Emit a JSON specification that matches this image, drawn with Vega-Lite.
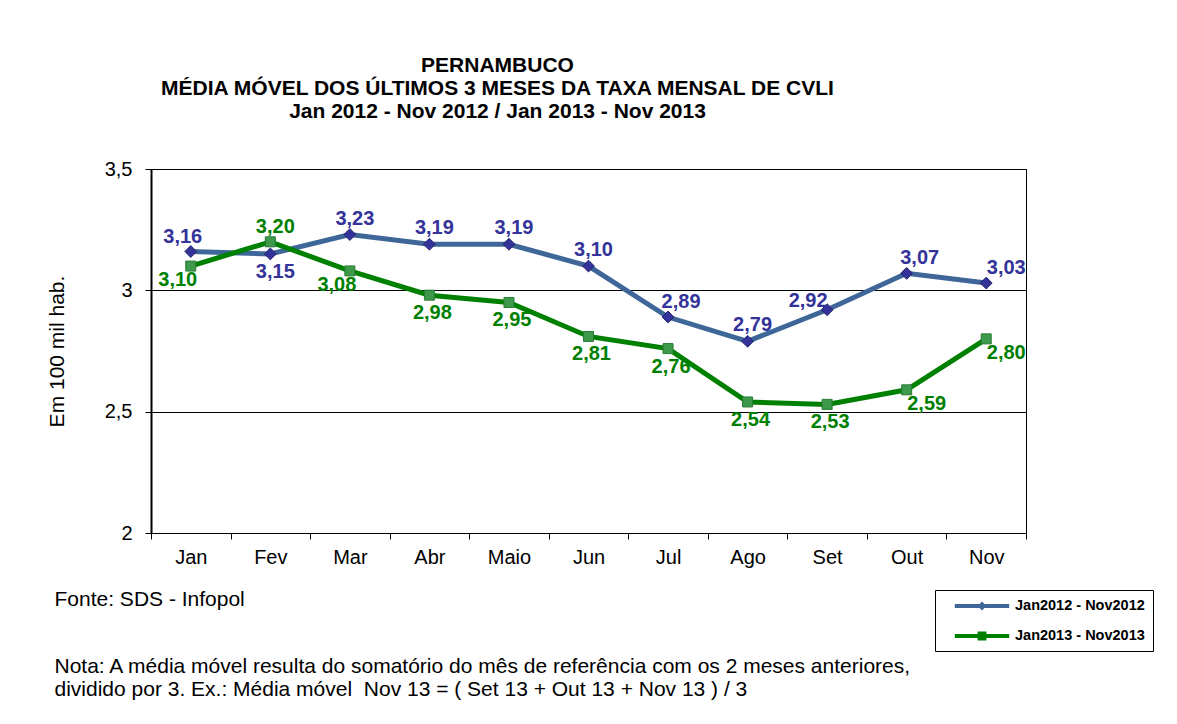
{
  "$schema": "https://vega.github.io/schema/vega-lite/v6.json",
  "autosize": "none",
  "width": 875,
  "height": 364,
  "padding": {"left": 151, "top": 169, "right": 151, "bottom": 191},
  "background": "white",
  "title": {
    "text": ["PERNAMBUCO", "MÉDIA MÓVEL DOS ÚLTIMOS 3 MESES DA TAXA MENSAL DE CVLI", "Jan 2012 - Nov 2012 / Jan 2013 - Nov 2013"],
    "fontSize": 21,
    "fontWeight": "bold",
    "font": "Liberation Sans",
    "lineHeight": 23,
    "color": "black",
    "offset": 37,
    "dx": -91,
    "anchor": "middle"
  },
  "data": {
    "values": [
      {"mes": "Jan", "serie": "Jan2012 - Nov2012", "valor": 3.16},
      {"mes": "Fev", "serie": "Jan2012 - Nov2012", "valor": 3.15},
      {"mes": "Mar", "serie": "Jan2012 - Nov2012", "valor": 3.23},
      {"mes": "Abr", "serie": "Jan2012 - Nov2012", "valor": 3.19},
      {"mes": "Maio", "serie": "Jan2012 - Nov2012", "valor": 3.19},
      {"mes": "Jun", "serie": "Jan2012 - Nov2012", "valor": 3.10},
      {"mes": "Jul", "serie": "Jan2012 - Nov2012", "valor": 2.89},
      {"mes": "Ago", "serie": "Jan2012 - Nov2012", "valor": 2.79},
      {"mes": "Set", "serie": "Jan2012 - Nov2012", "valor": 2.92},
      {"mes": "Out", "serie": "Jan2012 - Nov2012", "valor": 3.07},
      {"mes": "Nov", "serie": "Jan2012 - Nov2012", "valor": 3.03},
      {"mes": "Jan", "serie": "Jan2013 - Nov2013", "valor": 3.10},
      {"mes": "Fev", "serie": "Jan2013 - Nov2013", "valor": 3.20},
      {"mes": "Mar", "serie": "Jan2013 - Nov2013", "valor": 3.08},
      {"mes": "Abr", "serie": "Jan2013 - Nov2013", "valor": 2.98},
      {"mes": "Maio", "serie": "Jan2013 - Nov2013", "valor": 2.95},
      {"mes": "Jun", "serie": "Jan2013 - Nov2013", "valor": 2.81},
      {"mes": "Jul", "serie": "Jan2013 - Nov2013", "valor": 2.76},
      {"mes": "Ago", "serie": "Jan2013 - Nov2013", "valor": 2.54},
      {"mes": "Set", "serie": "Jan2013 - Nov2013", "valor": 2.53},
      {"mes": "Out", "serie": "Jan2013 - Nov2013", "valor": 2.59},
      {"mes": "Nov", "serie": "Jan2013 - Nov2013", "valor": 2.80}
    ]
  },
  "encoding": {
    "x": {
      "field": "mes",
      "type": "ordinal",
      "sort": ["Jan", "Fev", "Mar", "Abr", "Maio", "Jun", "Jul", "Ago", "Set", "Out", "Nov"],
      "scale": {"type": "band", "paddingInner": 0, "paddingOuter": 0},
      "axis": {
        "labelAngle": 0,
        "tickBand": "extent",
        "tickSize": 6,
        "tickColor": "black",
        "domainColor": "black",
        "domainWidth": 1,
        "labelFontSize": 20,
        "labelColor": "black",
        "labelPadding": 8,
        "grid": false,
        "title": ["Fonte: SDS - Infopol", "\u200b", "\u200b", "Nota: A média móvel resulta do somatório do mês de referência com os 2 meses anteriores,", "dividido por 3. Ex.: Média móvel \u00a0Nov 13 = ( Set 13 + Out 13 + Nov 13 ) / 3"],
        "titleFontSize": 21,
        "titleFontWeight": "normal",
        "titleColor": "black",
        "titleAnchor": "start",
        "titleAlign": "left",
        "titleBaseline": "top",
        "titleLineHeight": 22.5,
        "titleX": -97,
        "titleY": 55
      }
    },
    "y": {
      "field": "valor",
      "type": "quantitative",
      "scale": {"domain": [2, 3.5], "nice": false, "zero": false},
      "axis": {
        "values": [2, 2.5, 3, 3.5],
        "format": ".1~f",
        "grid": true,
        "gridColor": "black",
        "gridWidth": 1,
        "gridOpacity": 1,
        "tickSize": 6,
        "tickColor": "black",
        "domainColor": "black",
        "domainWidth": 2,
        "labelFontSize": 20,
        "labelColor": "black",
        "labelPadding": 13,
        "title": "Em 100 mil hab.",
        "titleFontSize": 21,
        "titleFontWeight": "normal",
        "titleColor": "black",
        "titlePadding": 37
      }
    }
  },
  "layer": [
    {
      "mark": {"type": "line", "strokeWidth": 5},
      "encoding": {
        "color": {
          "field": "serie",
          "type": "nominal",
          "scale": {"domain": ["Jan2012 - Nov2012", "Jan2013 - Nov2013"], "range": ["#3F6699", "#008000"]},
          "legend": {
            "orient": "none",
            "legendX": 784,
            "legendY": 421,
            "title": null,
            "padding": 8,
            "strokeColor": "black",
            "fillColor": "white",
            "labelFontSize": 14.5,
            "labelFontWeight": "bold",
            "labelColor": "black",
            "symbolSize": 256,
            "symbolOffset": 31,
            "labelOffset": 25,
            "rowPadding": 15,
            "symbolStrokeWidth": 0,
            "encode": {
              "symbols": {
                "update": {
                  "shape": {"signal": "datum.value === 'Jan2012 - Nov2012' ? 'M-3.4,-0.25L3.4,-0.25L3.4,0.25L-3.4,0.25Z M0,-0.55L0.55,0L0,0.55L-0.55,0Z' : 'M-3.4,-0.25L3.4,-0.25L3.4,0.25L-3.4,0.25Z M-0.55,-0.55L0.55,-0.55L0.55,0.55L-0.55,0.55Z'"},
                  "fill": {"scale": "color", "field": "value"},
                  "strokeWidth": {"value": 0},
                  "size": {"value": 256},
                  "opacity": {"value": 1}
                }
              }
            }
          }
        }
      }
    },
    {
      "transform": [{"filter": {"field": "serie", "equal": "Jan2012 - Nov2012"}}],
      "mark": {"type": "point", "shape": "diamond", "filled": true, "size": 140, "fill": "#333399", "stroke": "#24246e", "strokeWidth": 1, "opacity": 1}
    },
    {
      "transform": [{"filter": {"field": "serie", "equal": "Jan2013 - Nov2013"}}],
      "mark": {"type": "point", "shape": "square", "filled": true, "size": 100, "fill": "#3C9A4A", "stroke": "#2A7A36", "strokeWidth": 1, "opacity": 1}
    },
    {
      "transform": [{"filter": {"and": [{"field": "serie", "equal": "Jan2012 - Nov2012"}, {"field": "mes", "oneOf": ["Mar", "Abr", "Maio", "Jun", "Ago"]}]}}],
      "mark": {"type": "text", "dx": 5, "dy": -16, "fontSize": 20, "fontWeight": "bold", "color": "#333399"},
      "encoding": {"text": {"field": "valor", "type": "quantitative", "format": ".2f"}}
    },
    {
      "transform": [{"filter": {"and": [{"field": "serie", "equal": "Jan2012 - Nov2012"}, {"field": "mes", "oneOf": ["Jan"]}]}}],
      "mark": {"type": "text", "dx": -8, "dy": -15, "fontSize": 20, "fontWeight": "bold", "color": "#333399"},
      "encoding": {"text": {"field": "valor", "type": "quantitative", "format": ".2f"}}
    },
    {
      "transform": [{"filter": {"and": [{"field": "serie", "equal": "Jan2012 - Nov2012"}, {"field": "mes", "oneOf": ["Fev"]}]}}],
      "mark": {"type": "text", "dx": 5, "dy": 18, "fontSize": 20, "fontWeight": "bold", "color": "#333399"},
      "encoding": {"text": {"field": "valor", "type": "quantitative", "format": ".2f"}}
    },
    {
      "transform": [{"filter": {"and": [{"field": "serie", "equal": "Jan2012 - Nov2012"}, {"field": "mes", "oneOf": ["Jul", "Out"]}]}}],
      "mark": {"type": "text", "dx": 13, "dy": -15, "fontSize": 20, "fontWeight": "bold", "color": "#333399"},
      "encoding": {"text": {"field": "valor", "type": "quantitative", "format": ".2f"}}
    },
    {
      "transform": [{"filter": {"and": [{"field": "serie", "equal": "Jan2012 - Nov2012"}, {"field": "mes", "oneOf": ["Set"]}]}}],
      "mark": {"type": "text", "dx": -19, "dy": -9, "fontSize": 20, "fontWeight": "bold", "color": "#333399"},
      "encoding": {"text": {"field": "valor", "type": "quantitative", "format": ".2f"}}
    },
    {
      "transform": [{"filter": {"and": [{"field": "serie", "equal": "Jan2012 - Nov2012"}, {"field": "mes", "oneOf": ["Nov"]}]}}],
      "mark": {"type": "text", "dx": 20, "dy": -15, "fontSize": 20, "fontWeight": "bold", "color": "#333399"},
      "encoding": {"text": {"field": "valor", "type": "quantitative", "format": ".2f"}}
    },
    {
      "transform": [{"filter": {"and": [{"field": "serie", "equal": "Jan2013 - Nov2013"}, {"field": "mes", "oneOf": ["Abr", "Maio", "Jun", "Jul", "Ago", "Set"]}]}}],
      "mark": {"type": "text", "dx": 3, "dy": 18, "fontSize": 20, "fontWeight": "bold", "color": "#008000"},
      "encoding": {"text": {"field": "valor", "type": "quantitative", "format": ".2f"}}
    },
    {
      "transform": [{"filter": {"and": [{"field": "serie", "equal": "Jan2013 - Nov2013"}, {"field": "mes", "oneOf": ["Jan", "Mar"]}]}}],
      "mark": {"type": "text", "dx": -13, "dy": 14, "fontSize": 20, "fontWeight": "bold", "color": "#008000"},
      "encoding": {"text": {"field": "valor", "type": "quantitative", "format": ".2f"}}
    },
    {
      "transform": [{"filter": {"and": [{"field": "serie", "equal": "Jan2013 - Nov2013"}, {"field": "mes", "oneOf": ["Fev"]}]}}],
      "mark": {"type": "text", "dx": 5, "dy": -15, "fontSize": 20, "fontWeight": "bold", "color": "#008000"},
      "encoding": {"text": {"field": "valor", "type": "quantitative", "format": ".2f"}}
    },
    {
      "transform": [{"filter": {"and": [{"field": "serie", "equal": "Jan2013 - Nov2013"}, {"field": "mes", "oneOf": ["Out", "Nov"]}]}}],
      "mark": {"type": "text", "dx": 20, "dy": 14, "fontSize": 20, "fontWeight": "bold", "color": "#008000"},
      "encoding": {"text": {"field": "valor", "type": "quantitative", "format": ".2f"}}
    }
  ],
  "config": {
    "font": "Liberation Sans",
    "locale": {"number": {"decimal": ",", "thousands": ".", "grouping": [3], "currency": ["R$ ", ""]}},
    "view": {"stroke": "black", "strokeWidth": 1}
  }
}
